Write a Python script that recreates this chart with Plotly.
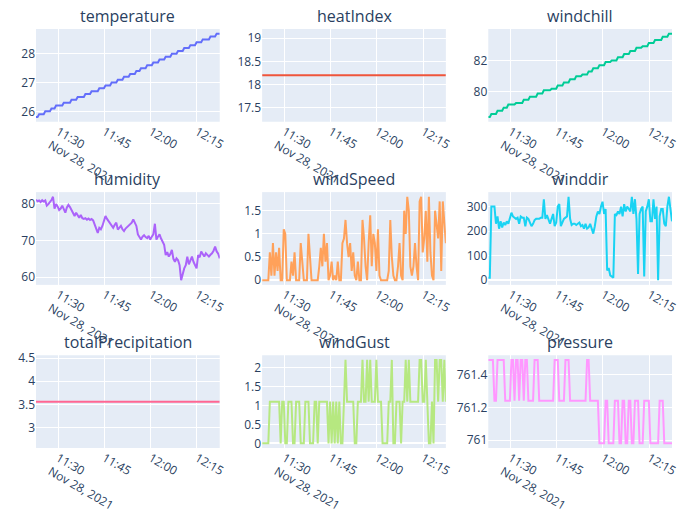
import pandas as pd
import plotly.graph_objects as go
from plotly.subplots import make_subplots

# Weather station readings, one sample every 30 s
times = pd.date_range("2021-11-28 11:22:52", periods=120, freq="30s")

titles = ["temperature", "heatIndex", "windchill",
          "humidity", "windSpeed", "winddir",
          "totalPrecipitation", "windGust", "pressure"]

temperature = [
    25.8, 25.8, 25.9, 25.9, 25.9, 25.9, 26.0, 26.0, 26.0, 26.0,
    26.1, 26.1, 26.1, 26.2, 26.2, 26.2, 26.2, 26.2, 26.3, 26.3,
    26.3, 26.3, 26.3, 26.4, 26.4, 26.4, 26.4, 26.5, 26.5, 26.5,
    26.5, 26.5, 26.6, 26.6, 26.6, 26.6, 26.7, 26.7, 26.7, 26.7,
    26.7, 26.8, 26.8, 26.8, 26.8, 26.9, 26.9, 26.9, 26.9, 27.0,
    27.0, 27.0, 27.0, 27.1, 27.1, 27.1, 27.1, 27.2, 27.2, 27.2,
    27.2, 27.3, 27.3, 27.3, 27.3, 27.4, 27.4, 27.4, 27.5, 27.5,
    27.5, 27.5, 27.6, 27.6, 27.6, 27.6, 27.7, 27.7, 27.7, 27.7,
    27.8, 27.8, 27.8, 27.8, 27.9, 27.9, 27.9, 27.9, 28.0, 28.0,
    28.0, 28.0, 28.1, 28.1, 28.1, 28.1, 28.2, 28.2, 28.2, 28.2,
    28.3, 28.3, 28.3, 28.3, 28.4, 28.4, 28.4, 28.4, 28.5, 28.5,
    28.5, 28.5, 28.5, 28.6, 28.6, 28.6, 28.6, 28.7, 28.7, 28.7,
]

heat_index = [18.2] * 120

windchill = [
    78.4, 78.4, 78.6, 78.6, 78.6, 78.6, 78.8, 78.8, 78.8, 78.8,
    79.0, 79.0, 79.0, 79.2, 79.2, 79.2, 79.2, 79.2, 79.3, 79.3,
    79.3, 79.3, 79.3, 79.5, 79.5, 79.5, 79.5, 79.7, 79.7, 79.7,
    79.7, 79.7, 79.9, 79.9, 79.9, 79.9, 80.1, 80.1, 80.1, 80.1,
    80.1, 80.2, 80.2, 80.2, 80.2, 80.4, 80.4, 80.4, 80.4, 80.6,
    80.6, 80.6, 80.6, 80.8, 80.8, 80.8, 80.8, 81.0, 81.0, 81.0,
    81.0, 81.1, 81.1, 81.1, 81.1, 81.3, 81.3, 81.3, 81.5, 81.5,
    81.5, 81.5, 81.7, 81.7, 81.7, 81.7, 81.9, 81.9, 81.9, 81.9,
    82.0, 82.0, 82.0, 82.0, 82.2, 82.2, 82.2, 82.2, 82.4, 82.4,
    82.4, 82.4, 82.6, 82.6, 82.6, 82.6, 82.8, 82.8, 82.8, 82.8,
    82.9, 82.9, 82.9, 82.9, 83.1, 83.1, 83.1, 83.1, 83.3, 83.3,
    83.3, 83.3, 83.3, 83.5, 83.5, 83.5, 83.5, 83.7, 83.7, 83.7,
]

humidity = [
    81.0, 80.6, 80.8, 80.4, 80.9, 80.5, 80.8, 79.4, 79.8, 80.3,
    80.9, 81.8, 78.6, 79.8, 79.2, 78.2, 78.6, 79.4, 78.3, 77.5,
    78.9, 79.6, 79.0, 78.2, 77.4, 76.6, 77.5, 76.8, 76.1, 76.9,
    76.0, 75.8, 76.0, 75.6, 75.9, 75.5, 75.8, 75.4, 74.3, 73.0,
    72.0, 73.4, 73.0, 73.9, 75.2, 76.6, 75.8, 75.2, 74.5, 74.0,
    73.4, 74.2, 74.8, 72.9, 73.5, 73.9, 73.0, 72.5, 73.2, 73.6,
    74.0, 74.3, 74.8, 75.7, 74.5, 73.9, 71.6, 70.8, 70.2, 71.0,
    71.4, 70.9, 70.6, 71.2, 70.2, 71.0, 71.6, 74.5, 70.2, 71.0,
    71.6, 70.5, 69.7, 68.8, 66.0, 66.8, 65.6, 66.3, 67.4, 65.0,
    64.2, 65.1, 64.6, 63.3, 59.2, 61.0, 62.4, 63.3, 65.6, 63.5,
    64.6, 65.6, 64.2, 63.0, 62.4, 66.0, 65.4, 67.0, 66.2, 65.6,
    66.5, 66.0, 65.6, 66.1, 66.5, 67.2, 68.3, 67.0, 66.4, 65.1,
]

wind_speed = [
    0, 0, 0, 0, 0, 0.6, 0.1, 0.8, 0.1, 0.6,
    0.2, 0.7, 0, 0, 1.1, 1.0, 0, 0, 0, 0.4,
    0.1, 0.6, 0, 0, 0, 0.8, 0.4, 0, 0, 0,
    1.0, 0.5, 0, 0, 0, 0, 0, 0.3, 0.7, 0.3,
    1.0, 0.4, 0.8, 0, 0.1, 0.4, 0, 0.1, 0, 0.4,
    0, 0, 0.8, 0.9, 1.3, 0.8, 0.5, 0.8, 0.2, 0.6,
    0.1, 0, 0.4, 0, 0, 1.3, 0.9, 0.3, 0, 0.8,
    1.4, 0.3, 1.0, 0.8, 0.2, 1.1, 0.1, 0, 0, 0,
    0, 0, 0.2, 1.3, 0.5, 0.1, 0, 0, 0.3, 0.8,
    0.1, 0, 1.5, 1.0, 1.8, 1.5, 0.3, 0.1, 0.3, 0.8,
    0.3, 0, 1.7, 1.8, 0.6, 0.9, 1.5, 0.4, 1.8, 0.6,
    0.1, 0, 1.5, 1.2, 0.9, 1.7, 0.2, 1.7, 1.2, 0.8,
]

wind_dir = [
    10, 10, 300, 300, 300, 230, 260, 210, 240, 215,
    235, 225, 240, 230, 250, 275, 260, 255, 250, 255,
    230, 260, 255, 255, 220, 255, 250, 235, 220, 230,
    245, 250, 250, 250, 255, 255, 330, 250, 265, 250,
    230, 250, 270, 220, 235, 300, 310, 220, 235, 250,
    255, 260, 340, 250, 225, 230, 230, 225, 230, 235,
    220, 225, 210, 230, 210, 215, 230, 210, 190, 220,
    260, 280, 270, 300, 320, 270, 290, 40, 50, 20,
    15, 10, 270, 265, 280, 270, 300, 260, 310, 280,
    300, 290, 280, 340, 270, 330, 250, 25, 270, 290,
    300, 15, 280, 300, 330, 240, 240, 330, 250, 300,
    0, 260, 290, 290, 230, 220, 300, 340, 280, 240,
]

total_precipitation = [3.56] * 120

wind_gust = [
    0, 0, 0, 0, 0, 1.1, 1.1, 1.1, 1.1, 1.1,
    1.1, 1.1, 0, 1.1, 1.1, 0, 0, 1.1, 1.1, 1.1,
    0, 0, 1.1, 1.1, 1.1, 0, 0, 0, 1.1, 1.1,
    1.1, 0, 0, 0, 1.1, 1.1, 0, 1.1, 1.1, 1.1,
    1.1, 1.1, 1.1, 0, 1.1, 0, 1.1, 0, 1.1, 0,
    1.1, 0, 0, 1.1, 2.2, 1.1, 1.1, 1.1, 1.1, 1.1,
    0, 0, 1.1, 1.1, 1.1, 2.2, 1.1, 1.1, 2.2, 1.1,
    2.2, 1.1, 1.1, 1.1, 2.2, 1.1, 1.1, 1.1, 0, 0,
    0, 0, 1.1, 1.1, 2.2, 0, 0, 1.1, 1.1, 1.1,
    0, 1.1, 1.1, 2.2, 1.1, 2.2, 1.1, 1.1, 1.1, 1.1,
    1.1, 1.1, 2.2, 2.2, 1.1, 1.1, 2.2, 1.1, 0, 0,
    1.1, 0, 2.2, 2.2, 1.1, 2.2, 2.2, 1.1, 2.2, 1.1,
]

pressure = [
    761.49, 761.49, 761.49, 761.49, 761.24, 761.24, 761.49, 761.49, 761.49, 761.49,
    761.49, 761.24, 761.24, 761.24, 761.24, 761.49, 761.49, 761.24, 761.49, 761.49,
    761.24, 761.49, 761.49, 761.24, 761.49, 761.49, 761.24, 761.24, 761.24, 761.24,
    761.49, 761.49, 761.49, 761.24, 761.24, 761.24, 761.24, 761.24, 761.24, 761.24,
    761.24, 761.24, 761.24, 761.49, 761.49, 761.49, 761.24, 761.24, 761.24, 761.24,
    761.49, 761.49, 761.49, 761.24, 761.24, 761.24, 761.24, 761.24, 761.24, 761.24,
    761.24, 761.24, 761.24, 761.24, 761.49, 761.49, 761.24, 761.24, 761.24, 761.24,
    761.24, 761.24, 760.98, 760.98, 760.98, 760.98, 761.24, 761.24, 760.98, 760.98,
    760.98, 760.98, 761.24, 761.24, 761.24, 760.98, 760.98, 761.24, 761.24, 760.98,
    760.98, 761.24, 761.24, 760.98, 760.98, 761.24, 761.24, 761.24, 760.98, 760.98,
    760.98, 761.24, 761.24, 761.24, 761.24, 760.98, 760.98, 760.98, 760.98, 760.98,
    760.98, 761.24, 761.24, 761.24, 760.98, 760.98, 760.98, 760.98, 760.98, 760.98,
]

series = [temperature, heat_index, windchill,
          humidity, wind_speed, wind_dir,
          total_precipitation, wind_gust, pressure]

fig = make_subplots(rows=3, cols=3, subplot_titles=titles,
                    vertical_spacing=0.168)

for k, (name, values) in enumerate(zip(titles, series)):
    fig.add_trace(
        go.Scatter(x=times, y=values, mode="lines", name=name),
        row=k // 3 + 1, col=k % 3 + 1,
    )

fig.update_xaxes(tickangle=30, automargin=False)
fig.update_yaxes(automargin=False)

fig.update_layout(
    width=682, height=517,
    template="plotly",
    showlegend=False,
    margin=dict(l=36, r=10, t=29, b=69),
)

fig.write_html("out.html")
